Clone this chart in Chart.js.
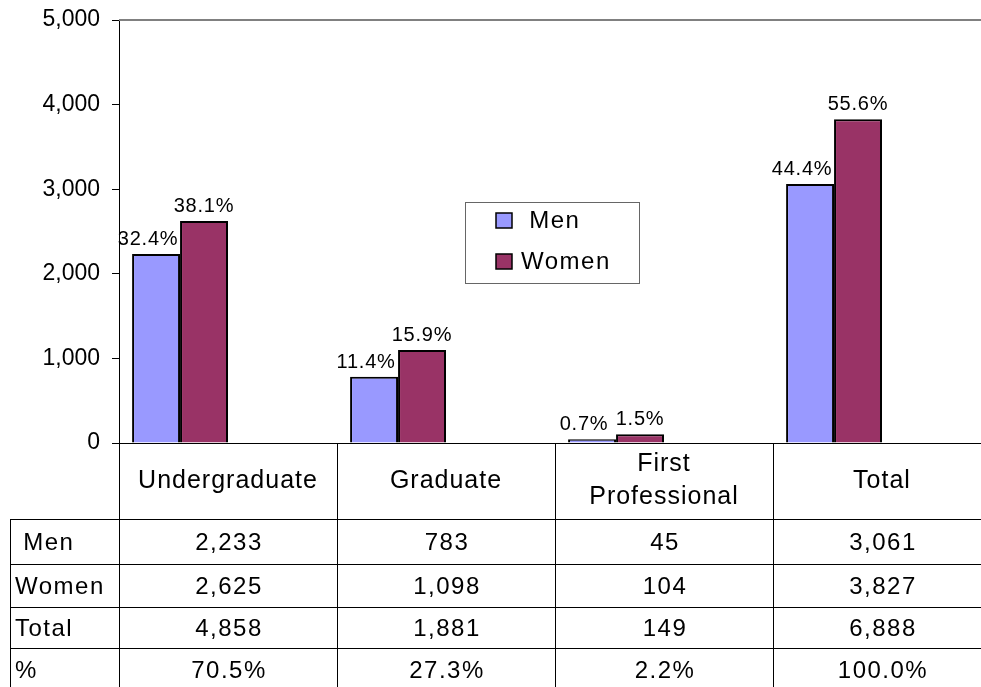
<!DOCTYPE html>
<html>
<head>
<meta charset="utf-8">
<script src="https://cdn.jsdelivr.net/npm/chart.js@4"></script>
<style>
  html, body { margin: 0; padding: 0; background: #fff; overflow: hidden; }
  #wrap { width: 981px; height: 687px; overflow: hidden; }
</style>
</head>
<body>
<div id="wrap"><canvas id="chart" width="1000" height="687"></canvas></div>
<script>
const categories = ["Undergraduate", "Graduate", "First Professional", "Total"];
const headerLines = [["Undergraduate"], ["Graduate"], ["First", "Professional"], ["Total"]];
const menValues = [2233, 783, 45, 3061];
const womenValues = [2625, 1098, 104, 3827];
const totalValues = [4858, 1881, 149, 6888];
const menPct = ["32.4%", "11.4%", "0.7%", "44.4%"];
const womenPct = ["38.1%", "15.9%", "1.5%", "55.6%"];
const totalPct = ["70.5%", "27.3%", "2.2%", "100.0%"];
const yTicks = [0, 1000, 2000, 3000, 4000, 5000];

const FONT = '"Liberation Sans", Arial, sans-serif';
const fmt = v => v.toLocaleString("en-US");

const tableRows = [
  { label: " Men", cells: menValues.map(fmt) },
  { label: "Women", cells: womenValues.map(fmt) },
  { label: "Total", cells: totalValues.map(fmt) },
  { label: "%", cells: totalPct }
];

const headerH = 76;
const rowH = [45, 43, 41, 43];
const tableLeft = 10;

function hline(ctx, x1, x2, y) {
  ctx.beginPath(); ctx.moveTo(x1, y); ctx.lineTo(x2, y); ctx.stroke();
}
function vline(ctx, x, y1, y2) {
  ctx.beginPath(); ctx.moveTo(x, y1); ctx.lineTo(x, y2); ctx.stroke();
}

const extras = {
  id: "extras",
  afterDatasetsDraw(chart) {
    const ctx = chart.ctx;
    const area = chart.chartArea;
    const xs = chart.scales.x;
    const W = chart.width, H = chart.height;
    ctx.save();

    // grey frame on top of plot area
    ctx.strokeStyle = "#808080";
    ctx.lineWidth = 2;
    hline(ctx, area.left, W, area.top);

    // percent labels above bars
    ctx.fillStyle = "#000";
    ctx.font = "20px " + FONT;
    ctx.letterSpacing = "0.8px";
    ctx.textAlign = "center";
    ctx.textBaseline = "alphabetic";
    const pctSets = [menPct, womenPct];
    const shift = [-8, 0];
    [0, 1].forEach(d => {
      chart.getDatasetMeta(d).data.forEach((bar, i) => {
        ctx.fillText(pctSets[d][i], bar.x + shift[d], bar.y - 9);
      });
    });

    // data table
    const catW = (xs.right - xs.left) / categories.length;
    const top = area.bottom;
    const rowTops = [];
    let y = top + headerH;
    rowH.forEach(h => { rowTops.push(y); y += h; });

    ctx.strokeStyle = "#000";
    ctx.lineWidth = 1;
    for (let i = 0; i <= categories.length; i++) {
      vline(ctx, Math.round(xs.left + i * catW) + 0.5, top, H);
    }
    vline(ctx, tableLeft + 0.5, rowTops[0], H);
    rowTops.forEach(t => hline(ctx, tableLeft, W, Math.round(t) + 0.5));

    ctx.font = "25px " + FONT;
    ctx.letterSpacing = "1px";
    ctx.textBaseline = "middle";
    ctx.textAlign = "center";
    headerLines.forEach((lines, i) => {
      const cx = xs.getPixelForValue(i);
      const cy = top + headerH / 2;
      lines.forEach((t, k) => {
        const off = (k - (lines.length - 1) / 2) * 33;
        ctx.fillText(t, cx, cy + off);
      });
    });

    ctx.font = "24px " + FONT;
    ctx.letterSpacing = "1.5px";
    tableRows.forEach((row, r) => {
      const cy = rowTops[r] + rowH[r] / 2 + 2;
      ctx.textAlign = "left";
      ctx.fillText(row.label, tableLeft + 5, cy);
      ctx.textAlign = "center";
      row.cells.forEach((c, i) => ctx.fillText(c, xs.getPixelForValue(i) + 1, cy));
    });

    // legend
    const lx = 465, ly = 202, lw = 174, lh = 81;
    ctx.strokeStyle = "#666";
    ctx.lineWidth = 1;
    ctx.strokeRect(lx + 0.5, ly + 0.5, lw, lh);
    ctx.textAlign = "left";
    [0, 1].forEach(d => {
      const ds = chart.data.datasets[d];
      const sy = ly + 11 + d * 41;
      ctx.fillStyle = ds.backgroundColor;
      ctx.fillRect(lx + 31, sy, 16, 15);
      ctx.strokeStyle = "#000";
      ctx.lineWidth = 1.5;
      ctx.strokeRect(lx + 31, sy, 16, 15);
      ctx.fillStyle = "#000";
      ctx.fillText(ds.label, lx + 56, sy + 8);
    });

    ctx.restore();
  }
};

new Chart(document.getElementById("chart"), {
  type: "bar",
  data: {
    labels: categories,
    datasets: [
      { label: " Men", data: menValues, backgroundColor: "#9999FF", borderColor: "#000", borderWidth: 2 },
      { label: "Women", data: womenValues, backgroundColor: "#993366", borderColor: "#000", borderWidth: 2 },
      // empty series kept so the groups sit left as in the source sheet
      { label: "Total", data: [] },
      { label: "%", data: [] }
    ]
  },
  options: {
    responsive: false,
    animation: false,
    events: [],
    layout: { padding: { top: 20, right: 9, bottom: 0, left: 0 } },
    datasets: { bar: { categoryPercentage: 0.88, barPercentage: 1 } },
    plugins: { legend: { display: false }, tooltip: { enabled: false } },
    scales: {
      x: {
        ticks: { display: false },
        grid: { display: false, drawTicks: false },
        border: { color: "#000", width: 1 },
        afterFit: s => { s.height = 244; s.paddingLeft = 0; s.paddingRight = 0; }
      },
      y: {
        min: 0,
        max: 5000,
        afterBuildTicks: s => { s.ticks = yTicks.map(v => ({ value: v })); },
        ticks: {
          color: "#000",
          font: { family: FONT, size: 23 },
          padding: 12,
          callback: v => fmt(v)
        },
        grid: { drawOnChartArea: false, tickLength: 7, tickColor: "#000" },
        border: { color: "#000", width: 1 },
        afterFit: s => { s.width = 119; s.paddingTop = 0; s.paddingBottom = 0; }
      }
    }
  },
  plugins: [extras]
});
</script>
</body>
</html>
